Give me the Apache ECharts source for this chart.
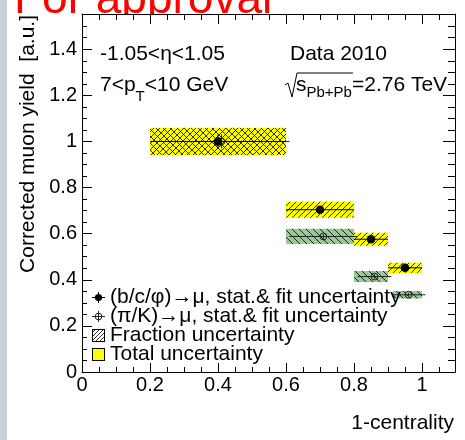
<!DOCTYPE html>
<html><head><meta charset="utf-8">
<script src="https://cdn.jsdelivr.net/npm/echarts@6/dist/echarts.min.js"></script>
<style>html,body{margin:0;padding:0;background:#fff}#c{width:465px;height:440px}</style>
</head><body><div id="c"></div>
<script>
// ---- data ----
const binLow  = [0.2, 0.6, 0.8, 0.9];
const binHigh = [0.6, 0.8, 0.9, 1.0];
const hfX    = [0.4, 0.7, 0.85, 0.95];
const hfY    = [1.0, 0.704, 0.576, 0.452];
const hfStat = [0.03, 0.012, 0.012, 0.01];
const hfTot  = [0.059, 0.035, 0.028, 0.022];
const lfX    = [0.41, 0.71, 0.86, 0.96];
const lfXErr = [0.2, 0.1, 0.05, 0.05];
const lfY    = [1.0, 0.588, 0.414, 0.335];
const lfStat = [0.03, 0.01, 0.01, 0.008];
const lfTot  = [0.059, 0.033, 0.024, 0.016];
const xTickVals   = [0, 0.2, 0.4, 0.6, 0.8, 1.0];
const xTickLabels = ['0', '0.2', '0.4', '0.6', '0.8', '1'];
const yTickVals   = [0, 0.2, 0.4, 0.6, 0.8, 1.0, 1.2, 1.4];
const yTickLabels = ['0', '0.2', '0.4', '0.6', '0.8', '1', '1.2', '1.4'];
const nameHF = '(b/c/\u03c6)\u2192\u03bc, stat.& fit uncertainty';
const namePK = '(\u03c0/K)\u2192\u03bc, stat.& fit uncertainty';
const nameFrac = 'Fraction uncertainty';
const nameTot = 'Total uncertainty';

const FF = "'Liberation Sans', Arial, Helvetica, sans-serif";
const XMAX = 1.097, YMAX = 1.553;
const YELLOW = '#ffff00', GREEN = '#99c999';

// ---- helpers ----
const mc = document.createElement('canvas').getContext('2d');
function tw(t, s){ mc.font = s + 'px ' + FF; return mc.measureText(t).width; }
function icon(draw){ const c=document.createElement('canvas'); c.width=13; c.height=13; const g=c.getContext('2d'); draw(g); return 'image://' + c.toDataURL(); }
const iconHF = icon(g=>{ g.strokeStyle='#000'; g.lineWidth=1; g.beginPath(); g.moveTo(0,6.5); g.lineTo(13,6.5); g.moveTo(6.5,1); g.lineTo(6.5,12); g.stroke(); g.fillStyle='#000'; g.beginPath(); g.arc(6.5,6.5,3.6,0,Math.PI*2); g.fill(); });
const iconPK = icon(g=>{ g.strokeStyle='#222'; g.lineWidth=1; g.beginPath(); g.moveTo(0,6.5); g.lineTo(13,6.5); g.moveTo(6.5,1); g.lineTo(6.5,12); g.stroke(); g.beginPath(); g.arc(6.5,6.5,3.3,0,Math.PI*2); g.stroke(); });
const iconFrac = icon(g=>{ g.fillStyle='#fff'; g.fillRect(0,0,13,13); g.strokeStyle='#333'; g.lineWidth=1; g.beginPath(); for(let c=-13;c<=26;c+=4){ g.moveTo(c,13); g.lineTo(c+13,0);} g.stroke(); g.strokeStyle='#000'; g.strokeRect(0.5,0.5,12,12); });
const iconTot = icon(g=>{ g.fillStyle=YELLOW; g.fillRect(0,0,13,13); g.strokeStyle='#000'; g.lineWidth=1; g.strokeRect(0.5,0.5,12,12); });

function boxItem(fill){
  return function(params, api){
    const p0 = api.coord([api.value(0), api.value(2) + api.value(3)]);
    const p1 = api.coord([api.value(1), api.value(2) - api.value(3)]);
    return {type:'rect', shape:{x:p0[0], y:p0[1], width:p1[0]-p0[0], height:p1[1]-p0[1]}, style:{fill:fill}};
  };
}
function hatchItem(dir, s){
  return function(params, api){
    const p0 = api.coord([api.value(0), api.value(2) + api.value(3)]);
    const p1 = api.coord([api.value(1), api.value(2) - api.value(3)]);
    const X0=p0[0], Y0=p0[1], X1=p1[0], Y1=p1[1];
    const ch=[]; const st={stroke:'rgba(0,0,0,0.8)', lineWidth:1};
    if(dir>0){
      for(let c=Math.ceil((X0+Y0)/s)*s; c<=X1+Y1; c+=s){
        const xa=Math.max(X0,c-Y1), xb=Math.min(X1,c-Y0);
        if(xb>xa) ch.push({type:'line', shape:{x1:xa,y1:c-xa,x2:xb,y2:c-xb}, style:st});
      }
    } else {
      for(let c=Math.ceil((X0-Y1)/s)*s; c<=X1-Y0; c+=s){
        const xa=Math.max(X0,c+Y0), xb=Math.min(X1,c+Y1);
        if(xb>xa) ch.push({type:'line', shape:{x1:xa,y1:xa-c,x2:xb,y2:xb-c}, style:st});
      }
    }
    return {type:'group', children:ch};
  };
}
function markerItem(filled, col, r){
  return function(params, api){
    const xl=api.value(0), xh=api.value(1), x=api.value(2), y=api.value(3), ye=api.value(4);
    const pl=api.coord([xl,y]), pr=api.coord([xh,y]), pt=api.coord([x,y+ye]), pb=api.coord([x,y-ye]), pc=api.coord([x,y]);
    const st={stroke:col, lineWidth:1};
    return {type:'group', children:[
      {type:'line', shape:{x1:pl[0],y1:pc[1],x2:pr[0],y2:pc[1]}, style:st},
      {type:'line', shape:{x1:pc[0],y1:pt[1],x2:pc[0],y2:pb[1]}, style:st},
      {type:'circle', shape:{cx:pc[0], cy:pc[1], r:r}, style: filled ? {fill:col} : {fill:'none', stroke:col, lineWidth:1}}
    ]};
  };
}

const hfBoxes = binLow.map((l,i)=>[l, binHigh[i], hfY[i], hfTot[i]]);
const lfBoxes = binLow.map((l,i)=>[l, binHigh[i], lfY[i], lfTot[i]]);
const hfPts = hfX.map((x,i)=>[binLow[i], binHigh[i], x, hfY[i], hfStat[i]]);
const lfPts = lfX.map((x,i)=>[x-lfXErr[i], x+lfXErr[i], x, lfY[i], lfStat[i]]);

function fmt(vals, labs){ return v => { const i=vals.findIndex(t=>Math.abs(t-v)<1e-6); return i>=0 ? labs[i] : ''; }; }
const black = {color:'#000', width:1};
function xa(grid, pos, interval, len, line, labels){
  return {type:'value', gridIndex:grid, position:pos, min:0, max:XMAX, interval:interval,
    axisLine:{show:line, onZero:false, lineStyle:black}, splitLine:{show:false},
    axisTick:{show:true, inside:true, length:len, lineStyle:black},
    axisLabel: labels ? {show:true, margin:3, fontSize:20, fontFamily:FF, color:'#000', formatter:fmt(xTickVals,xTickLabels), showMaxLabel:false} : {show:false}};
}
function ya(grid, pos, interval, len, line, labels){
  return {type:'value', gridIndex:grid, position:pos, min:0, max:YMAX, interval:interval,
    axisLine:{show:line, onZero:false, lineStyle:black}, splitLine:{show:false},
    axisTick:{show:true, inside:true, length:len, lineStyle:black},
    axisLabel: labels ? {show:true, margin:5, fontSize:20, fontFamily:FF, color:'#000', formatter:fmt(yTickVals,yTickLabels), showMaxLabel:false} : {show:false}};
}
const G = {left:82, top:14, width:373, height:358, containLabel:false, outerBoundsMode:'none'};

// composite texts
const t2a='7<p', t2b='T', t2c='<10 GeV';
const x2b = 100 + tw(t2a,21), x2c = x2b + tw(t2b,15);
const t4s='s', t4sub='Pb+Pb', t4e='=2.76 TeV';
const x4s = 296, x4sub = x4s + tw(t4s,21), x4e = x4sub + tw(t4sub,15);
const txt = (text, x, y, size, extra, rot) => ({type:'text', x:x, y:y, z:5, rotation:rot||0, style:Object.assign({text:text, fontSize:size, fontFamily:FF, fill:'#000', verticalAlign:'middle'}, extra||{})});

const option = {
  backgroundColor:'#fff',
  animation:false,
  grid:[Object.assign({},G), Object.assign({},G)],
  xAxis:[xa(0,'bottom',0.2,9,true,true), xa(0,'top',0.2,10,true,false), xa(1,'bottom',0.05,5,false,false), xa(1,'top',0.05,6,false,false)],
  yAxis:[ya(0,'left',0.2,10,true,true), ya(0,'right',0.2,12,true,false), ya(1,'left',0.05,5,false,false), ya(1,'right',0.05,7,false,false)],
  legend:{orient:'vertical', left:92, top:287, padding:0, itemGap:-2, itemWidth:13, itemHeight:13, selectedMode:false,
    textStyle:{fontSize:21, fontFamily:FF, color:'#000', lineHeight:14},
    data:[{name:nameHF, icon:iconHF}, {name:namePK, icon:iconPK}, {name:nameFrac, icon:iconFrac}, {name:nameTot, icon:iconTot}]},
  graphic:{elements:[
    {type:'text', x:14, y:0, z:-3, style:{text:'For approval', fontSize:46, fontFamily:FF, fill:'#ff0000', verticalAlign:'middle'}},
    {type:'rect', z:-2, shape:{x:7, y:14, width:458, height:426}, style:{fill:'#fff'}},
    {type:'rect', z:-1, shape:{x:0, y:0, width:7, height:440}, style:{fill:'#c8d2da'}},
    {type:'rect', z:3, shape:{x:92, y:286, width:301, height:76}, style:{fill:'#fff'}},
    txt('Corrected muon yield  [a.u.]', 28, 15, 21, {align:'right'}, Math.PI/2),
    txt('1-centrality', 454, 423, 21, {align:'right'}),
    txt('-1.05<\u03b7<1.05', 100, 54, 21),
    txt(t2a, 100, 85.5, 21), txt(t2b, x2b, 97, 15), txt(t2c, x2c, 85.5, 21),
    txt('Data 2010', 290, 54, 21),
    {type:'polyline', z:5, shape:{points:[[285,85],[288,83],[292,97],[297,73],[x4e+1,73]]}, style:{stroke:'#000', lineWidth:1, fill:'none'}},
    txt(t4s, x4s, 85, 21), txt(t4sub, x4sub, 92.5, 15), txt(t4e, x4e, 85, 21)
  ]},
  series:[
    {type:'custom', name:'piK box', renderItem:boxItem(GREEN), data:lfBoxes, encode:{x:[0,1], y:[2]}, silent:true},
    {type:'custom', name:nameTot, renderItem:boxItem(YELLOW), data:hfBoxes, encode:{x:[0,1], y:[2]}, silent:true, itemStyle:{color:YELLOW}},
    {type:'custom', name:'piK frac', renderItem:hatchItem(-1,7), data:lfBoxes, encode:{x:[0,1], y:[2]}, silent:true},
    {type:'custom', name:nameFrac, renderItem:hatchItem(1,6), data:hfBoxes, encode:{x:[0,1], y:[2]}, silent:true},
    {type:'custom', name:namePK, renderItem:markerItem(false,'#222',3.4), data:lfPts, encode:{x:[0,1,2], y:[3]}, silent:true},
    {type:'custom', name:nameHF, renderItem:markerItem(true,'#000',4.3), data:hfPts, encode:{x:[0,1,2], y:[3]}, silent:true}
  ]
};
const el = document.getElementById('c');
const chart = echarts.init(el, null, {renderer:'canvas', width:465, height:440});
chart.setOption(option);
</script></body></html>
